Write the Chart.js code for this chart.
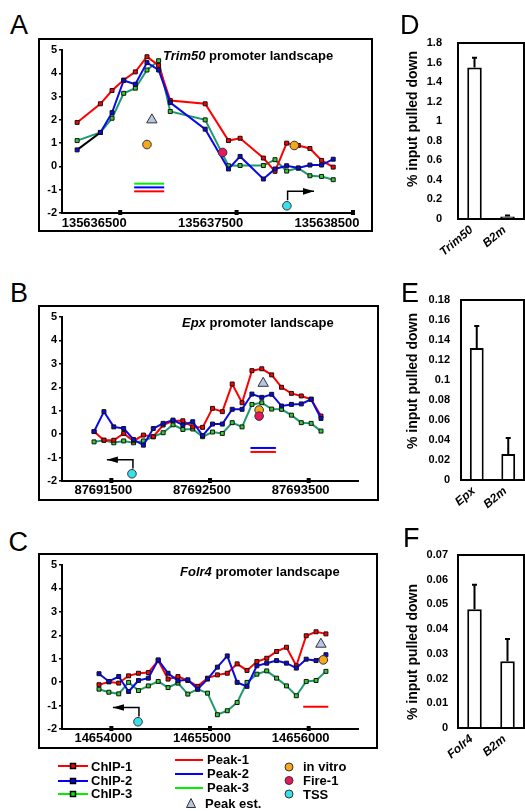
<!DOCTYPE html>
<html><head><meta charset="utf-8">
<script src="https://cdn.jsdelivr.net/npm/chart.js@4.4.1/dist/chart.umd.min.js"></script>
<style>
body{margin:0;background:#fff;width:525px;height:811px;position:relative;overflow:hidden;font-family:"Liberation Sans",Arial,Helvetica,sans-serif;color:#000;}
canvas{position:absolute;z-index:1;}
.let{position:absolute;font-size:27px;line-height:27px;font-weight:normal;z-index:5;}
.ttl{position:absolute;font-weight:bold;font-size:13px;line-height:13px;white-space:nowrap;z-index:5;}
.yt{position:absolute;font-weight:bold;font-size:14px;line-height:14px;white-space:nowrap;transform:translate(-50%,-50%) rotate(-90deg);z-index:5;}
.lg{position:absolute;font-weight:bold;font-size:13px;line-height:14px;white-space:nowrap;z-index:5;}
svg{z-index:5;}
</style></head>
<body>
<div class="let" style="left:10px;top:11.5px">A</div>
<div class="let" style="left:10px;top:279.5px">B</div>
<div class="let" style="left:8.5px;top:528.5px">C</div>
<div class="let" style="left:400px;top:11.5px">D</div>
<div class="let" style="left:401px;top:279.5px">E</div>
<div class="let" style="left:403px;top:524.5px">F</div>

<canvas id="cA" width="335" height="194" style="left:38px;top:38px"></canvas>
<canvas id="cB" width="341" height="196" style="left:38px;top:305px"></canvas>
<canvas id="cC" width="340" height="196" style="left:38px;top:553px"></canvas>
<canvas id="cD" width="127" height="245" style="left:398px;top:30px"></canvas>
<canvas id="cE" width="127" height="245" style="left:398px;top:285px"></canvas>
<canvas id="cF" width="127" height="245" style="left:398px;top:540px"></canvas>

<div class="ttl" style="left:163px;top:48.7px"><i>Trim50</i> promoter landscape</div>
<div class="ttl" style="left:182px;top:316.3px"><i>Epx</i> promoter landscape</div>
<div class="ttl" style="left:180px;top:565.3px"><i>Folr4</i> promoter landscape</div>

<div class="yt" style="left:412px;top:118.5px">% input pulled down</div>
<div class="yt" style="left:411.5px;top:381px">% input pulled down</div>
<div class="yt" style="left:411.5px;top:651.5px">% input pulled down</div>

<svg style="position:absolute;left:0;top:745px" width="380" height="66">
  <line x1="58" y1="21" x2="88" y2="21" stroke="#ff0000" stroke-width="2"/>
  <rect x="70.5" y="18.5" width="5" height="5" fill="#ff0000" stroke="#000" stroke-width="1.5"/>
  <line x1="58" y1="36" x2="88" y2="36" stroke="#0000ff" stroke-width="2"/>
  <rect x="70.5" y="33.5" width="5" height="5" fill="#0000ff" stroke="#000" stroke-width="1.5"/>
  <line x1="58" y1="49" x2="88" y2="49" stroke="#00ee00" stroke-width="2"/>
  <rect x="70.5" y="46.5" width="5" height="5" fill="#00ee00" stroke="#000" stroke-width="1.5"/>
  <line x1="175" y1="15" x2="203" y2="15" stroke="#ff0000" stroke-width="2"/>
  <line x1="175" y1="29" x2="203" y2="29" stroke="#0000ff" stroke-width="2"/>
  <line x1="175" y1="43" x2="203" y2="43" stroke="#00ee00" stroke-width="2"/>
  <polygon points="191,53.5 195.5,62.5 186.5,62.5" fill="#b8c6e6" stroke="#333" stroke-width="1"/>
  <circle cx="289" cy="22" r="4" fill="#f6a81c" stroke="#333" stroke-width="1"/>
  <circle cx="289" cy="35.5" r="4" fill="#e8175d" stroke="#333" stroke-width="1"/>
  <circle cx="289" cy="49" r="4" fill="#38e0ea" stroke="#333" stroke-width="1"/>
</svg>
<div class="lg" style="left:91px;top:760px">ChIP-1</div>
<div class="lg" style="left:91px;top:774px">ChIP-2</div>
<div class="lg" style="left:91px;top:787px">ChIP-3</div>
<div class="lg" style="left:207px;top:753px">Peak-1</div>
<div class="lg" style="left:207px;top:767px">Peak-2</div>
<div class="lg" style="left:207px;top:781px">Peak-3</div>
<div class="lg" style="left:205px;top:797px">Peak est.</div>
<div class="lg" style="left:303px;top:760px">in vitro</div>
<div class="lg" style="left:303px;top:774px">Fire-1</div>
<div class="lg" style="left:303px;top:788px">TSS</div>

<script>
// ---------- Panel A (Trim50) ----------
const posA = [135636130,135636330,135636430,135636530,135636630,135636730,135636830,135636930,135637230,135637430,135637530,135637730,135637830,135637930,135638030,135638130,135638230,135638330];
const chip1A = [1.89,2.69,3.26,3.71,4.06,4.71,4.34,2.83,2.69,1.11,1.21,0.36,-0.21,1.0,0.9,0.77,0.26,-0.03];
const chip2A = [0.71,1.46,2.31,3.69,3.53,4.46,4.14,2.74,1.6,-0.11,0.43,-0.54,-0.11,0.03,-0.07,0.06,0.06,0.31];
const chip3A = [1.11,1.46,2.07,3.14,3.36,4.14,4.54,2.36,2.0,0.03,0.04,0.04,0.29,-0.2,-0.07,-0.4,-0.43,-0.57];
const ticksA = [135636500,135637500,135638500];
const peakEstA = [[135636772,2.0]];
const inVitroA = [[135636730,0.94],[135637996,0.9]];
const fire1A = [[135637380,0.6]];
const tssA = [[135637932,-1.69]];
const arrowA = [[135637938,-1.45],[135637938,-1.07],[135638165,-1.07]];
const peak1A = [[135636620,-1.07],[135636878,-1.07]];
const peak2A = [[135636620,-0.9],[135636878,-0.9]];
const peak3A = [[135636620,-0.74],[135636878,-0.74]];

// ---------- Panel B (Epx) ----------
const posB = [87691325,87691425,87691525,87691625,87691725,87691825,87691925,87692025,87692125,87692225,87692325,87692425,87692525,87692625,87692725,87692825,87692925,87693025,87693125,87693225,87693325,87693425,87693525,87693625];
const chip1B = [0.11,-0.26,-0.26,0.03,-0.29,-0.04,-0.11,0.39,0.57,0.57,0.31,0.29,1.1,0.96,2.14,1.34,2.71,2.79,2.53,2.0,1.74,1.63,1.49,0.77];
const chip2B = [0.11,0.96,0.31,0.24,-0.23,-0.47,0.24,0.46,0.6,0.39,0.53,-0.06,0.43,0.43,1.06,1.06,1.71,1.57,1.7,1.2,1.27,1.29,1.49,0.67];
const chip3B = [-0.33,-0.26,-0.37,-0.29,-0.37,-0.29,-0.11,0.06,0.4,0.2,0.22,-0.11,0.09,0.03,0.49,0.31,1.27,1.34,1.07,1.06,0.81,0.49,0.46,0.13];
const ticksB = [87691500,87692500,87693500];
const peakEstB = [[87693039,2.17]];
const inVitroB = [[87692998,1.03]];
const fire1B = [[87692998,0.77]];
const tssB = [[87691709,-1.69]];
const arrowB = [[87691719,-1.47],[87691719,-1.09],[87691455,-1.09]];
const peak1B = [[87692910,-0.76],[87693168,-0.76]];
const peak2B = [[87692910,-0.59],[87693168,-0.59]];

// ---------- Panel C (Folr4) ----------
const posC = [14653875,14653975,14654075,14654175,14654275,14654375,14654475,14654575,14654675,14654775,14654875,14654975,14655075,14655175,14655275,14655375,14655475,14655575,14655675,14655775,14655875,14655975,14656075,14656175];
const chip1C = [-0.11,0.01,-0.04,0.27,0.38,0.41,0.92,0.13,0.24,0.07,-0.18,0.17,0.31,0.38,0.78,0.5,0.88,1.02,1.31,1.49,0.7,1.98,2.15,2.06];
const chip2C = [0.36,0.03,0.24,-0.4,0.07,0.17,0.95,0.38,0.06,0.1,-0.3,0.13,0.64,1.12,-0.01,-0.18,0.7,0.81,0.92,0.81,0.6,0.98,0.92,1.17];
const chip3C = [-0.3,-0.43,-0.5,-0.01,-0.36,-0.16,0.03,-0.23,-0.04,-0.51,-0.3,-0.47,-1.39,-1.22,-0.87,-0.01,0.34,0.48,0.17,-0.16,-0.58,0.03,0.07,0.46];
const ticksC = [14654000,14655000,14656000];
const peakEstC = [[14656124,1.62]];
const inVitroC = [[14656148,0.95]];
const tssC = [[14654270,-1.69]];
const arrowC = [[14654280,-1.47],[14654280,-1.08],[14654016,-1.08]];
const peak1C = [[14655945,-1.05],[14656199,-1.05]];

// ---------- Bar panels ----------
const catsD = ['Trim50','B2m'];
const valsD = [1.55,0.025];
const errsD = [0.1,0.012];
const catsE = ['Epx','B2m'];
const valsE = [0.132,0.026];
const errsE = [0.022,0.016];
const catsF = ['Folr4','B2m'];
const valsF = [0.048,0.027];
const errsF = [0.010,0.009];

Chart.defaults.font.family = '"Liberation Sans", Arial, Helvetica, sans-serif';
Chart.defaults.color = '#000';

const RED='#ff0000', BLUE='#0a0ae6', GREEN='#1e9a6c';
const PRED='#ff0000', PBLUE='#0000ff', PGREEN='#00ee00';
const ORANGE='#f6a81c', FIRE='#e8175d', CYAN='#38e0ea', TRI='#b8c6e6';

const boxPlugin = {
  id:'box',
  beforeDraw(chart){const c=chart.ctx;c.save();c.fillStyle='#fff';c.fillRect(0,0,chart.width,chart.height);c.restore();},
  afterDraw(chart,args,opts){
    const c=chart.ctx;c.save();c.strokeStyle='#000';c.lineWidth=2;
    if(opts.mode==='canvas'){c.strokeRect(1,1,chart.width-2,chart.height-2);}
    else{const a=chart.chartArea;c.strokeRect(a.left,a.top,a.right-a.left,a.bottom-a.top);}
    c.restore();
  }
};
const tickSq = {
  id:'tickSq',
  afterDraw(chart){
    const xs=chart.scales.x,b=chart.chartArea.bottom,c=chart.ctx;c.save();c.fillStyle='#000';
    xs.ticks.forEach(t=>{const px=xs.getPixelForValue(t.value);c.fillRect(px-2,b-3,4,5);});
    c.restore();
  }
};
const arrowPlugin = {
  id:'arrowHead',
  afterDatasetsDraw(chart){
    const c=chart.ctx;
    chart.data.datasets.forEach((ds,i)=>{
      if(!ds.arrowHead)return;
      const pts=chart.getDatasetMeta(i).data;const p1=pts[pts.length-2],p2=pts[pts.length-1];
      const ang=Math.atan2(p2.y-p1.y,p2.x-p1.x);
      c.save();c.translate(p2.x,p2.y);c.rotate(ang);c.beginPath();c.moveTo(0,0);c.lineTo(-11,-3.3);c.lineTo(-11,3.3);c.closePath();c.fillStyle='#000';c.fill();c.restore();
    });
  }
};
const errPlugin = {
  id:'errBars',
  afterDatasetsDraw(chart){
    const ds=chart.data.datasets[0],meta=chart.getDatasetMeta(0),ys=chart.scales.y,c=chart.ctx;
    c.save();c.strokeStyle='#000';c.lineWidth=2;
    meta.data.forEach((bar,i)=>{
      const top=ys.getPixelForValue(ds.data[i]+ds.errors[i]);
      c.beginPath();c.moveTo(bar.x,bar.y);c.lineTo(bar.x,top);c.moveTo(bar.x-2.5,top);c.lineTo(bar.x+2.5,top);c.stroke();
    });
    c.restore();
  }
};

const toXY = (pos,vals)=>vals.map((v,i)=>({x:pos[i],y:v}));
const pairs = arr=>arr.map(p=>({x:p[0],y:p[1]}));

function chipDS(label,pos,vals,color,inner,order,extra){
  return Object.assign({type:'line',label,data:toXY(pos,vals),borderColor:color,borderWidth:2,tension:0,
    pointStyle:'rect',pointRadius:2.8,pointBackgroundColor:inner,pointBorderColor:'#111',pointBorderWidth:1,order},extra||{});
}
function markDS(label,arr,color,style,r,order){
  return {type:'line',label,data:pairs(arr),showLine:false,pointStyle:style,pointRadius:r,
    pointBackgroundColor:color,pointBorderColor:'#333',pointBorderWidth:1,order};
}
function segDS(label,arr,color,width,order,extra){
  return Object.assign({type:'line',label,data:pairs(arr),borderColor:color,borderWidth:width,pointRadius:0,tension:0,order},extra||{});
}

function makeLine(id,d){
  new Chart(document.getElementById(id),{
    type:'line',
    data:{datasets:d.datasets},
    options:{
      responsive:false,animation:false,devicePixelRatio:1,
      layout:{padding:{left:0,top:12,right:d.padR,bottom:0}},
      plugins:{legend:{display:false},tooltip:{enabled:false},box:{mode:'canvas'}},
      scales:{
        x:{type:'linear',min:d.min,max:d.max,
          grid:{display:false,drawTicks:false,tickLength:0},border:{display:true,color:'#000',width:2},
          ticks:{font:{size:13,weight:'bold'},color:'#000',padding:d.xpad,labelOffset:d.lOff,maxRotation:0,autoSkip:false,callback:v=>String(v)},
          afterBuildTicks:s=>{s.ticks=d.ticks.map(v=>({value:v}));},
          afterFit:s=>{s.height=d.xh;s.paddingLeft=0;s.paddingRight=0;}},
        y:{type:'linear',min:-2,max:5,
          grid:{display:true,drawOnChartArea:false,drawTicks:true,tickLength:3,color:'#000',lineWidth:1.5},
          border:{display:true,color:'#000',width:2},
          ticks:{stepSize:1,font:{size:11,weight:'bold'},color:'#000',padding:2},
          afterFit:s=>{s.width=24;s.paddingTop=0;s.paddingBottom=0;}}
      }
    },
    plugins:[boxPlugin,tickSq,arrowPlugin]
  });
}

makeLine('cA',{min:135636000,max:135638500,ticks:ticksA,padR:20,xh:19,xpad:3,lOff:-26,datasets:[
  markDS('TSS',tssA,CYAN,'circle',4.3,0),
  markDS('Peak est.',peakEstA,TRI,'triangle',6,0),
  markDS('Fire-1',fire1A,FIRE,'circle',4.3,1),
  markDS('in vitro',inVitroA,ORANGE,'circle',4.3,2),
  segDS('TSS arrow',arrowA,'#000',1.5,5,{arrowHead:true}),
  segDS('Peak-1',peak1A,PRED,2,5),
  segDS('Peak-2',peak2A,PBLUE,2,5),
  segDS('Peak-3',peak3A,PGREEN,2,5),
  chipDS('ChIP-2',posA,chip2A,BLUE,BLUE,6,{segment:{borderColor:ctx=>ctx.p0DataIndex===0?'#000':undefined}}),
  chipDS('ChIP-1',posA,chip1A,RED,RED,7),
  chipDS('ChIP-3',posA,chip3A,GREEN,'#33cc33',8)
]});

makeLine('cB',{min:87691000,max:87694000,ticks:ticksB,padR:21,xh:20,xpad:2,lOff:-8,datasets:[
  markDS('TSS',tssB,CYAN,'circle',4.3,0),
  markDS('Peak est.',peakEstB,TRI,'triangle',6,0),
  markDS('Fire-1',fire1B,FIRE,'circle',4.3,1),
  markDS('in vitro',inVitroB,ORANGE,'circle',4.3,2),
  segDS('TSS arrow',arrowB,'#000',1.5,5,{arrowHead:true}),
  segDS('Peak-1',peak1B,PRED,2,5),
  segDS('Peak-2',peak2B,PBLUE,2,5),
  chipDS('ChIP-2',posB,chip2B,BLUE,BLUE,6),
  chipDS('ChIP-1',posB,chip1B,RED,RED,7),
  chipDS('ChIP-3',posB,chip3B,GREEN,'#33cc33',8)
]});

makeLine('cC',{min:14653500,max:14656500,ticks:ticksC,padR:20,xh:20,xpad:2,lOff:-8,datasets:[
  markDS('TSS',tssC,CYAN,'circle',4.3,0),
  markDS('Peak est.',peakEstC,TRI,'triangle',6,0),
  markDS('in vitro',inVitroC,ORANGE,'circle',4.3,2),
  segDS('TSS arrow',arrowC,'#000',1.5,5,{arrowHead:true}),
  segDS('Peak-1',peak1C,PRED,2,5),
  chipDS('ChIP-2',posC,chip2C,BLUE,BLUE,6),
  chipDS('ChIP-1',posC,chip1C,RED,RED,7),
  chipDS('ChIP-3',posC,chip3C,GREEN,'#33cc33',8)
]});

function makeBar(id,d){
  new Chart(document.getElementById(id),{
    type:'bar',
    data:{labels:d.cats,datasets:[{data:d.vals,errors:d.errs,backgroundColor:'#fff',borderColor:'#000',borderWidth:2,barPercentage:0.44,categoryPercentage:1}]},
    options:{
      responsive:false,animation:false,devicePixelRatio:1,
      layout:{padding:{left:0,top:d.top,right:1,bottom:0}},
      plugins:{legend:{display:false},tooltip:{enabled:false},box:{mode:'area'}},
      scales:{
        x:{grid:{display:false,drawTicks:false,tickLength:0},border:{display:false},
          ticks:{minRotation:40,maxRotation:40,font:{size:12,weight:'bold',style:'italic'},color:'#000',padding:4,labelOffset:-3},
          afterFit:s=>{s.height=d.xh;s.paddingLeft=0;s.paddingRight=0;}},
        y:{min:0,max:d.max,grid:{display:false,drawTicks:false,tickLength:0},border:{display:false},
          ticks:{stepSize:d.step,font:{size:11,weight:'bold'},color:'#000',padding:d.tp,callback:v=>String(+v.toFixed(4))},
          afterFit:s=>{s.width=d.yw;s.paddingTop=0;s.paddingBottom=0;}}
      }
    },
    plugins:[boxPlugin,errPlugin]
  });
}
makeBar('cD',{cats:catsD,vals:valsD,errs:errsD,max:1.8,step:0.2,top:13,xh:56,yw:60,tp:16});
makeBar('cE',{cats:catsE,vals:valsE,errs:errsE,max:0.18,step:0.02,top:15,xh:50,yw:63,tp:11});
makeBar('cF',{cats:catsF,vals:valsF,errs:errsF,max:0.07,step:0.01,top:15,xh:57,yw:60,tp:10});
</script>
</body></html>
